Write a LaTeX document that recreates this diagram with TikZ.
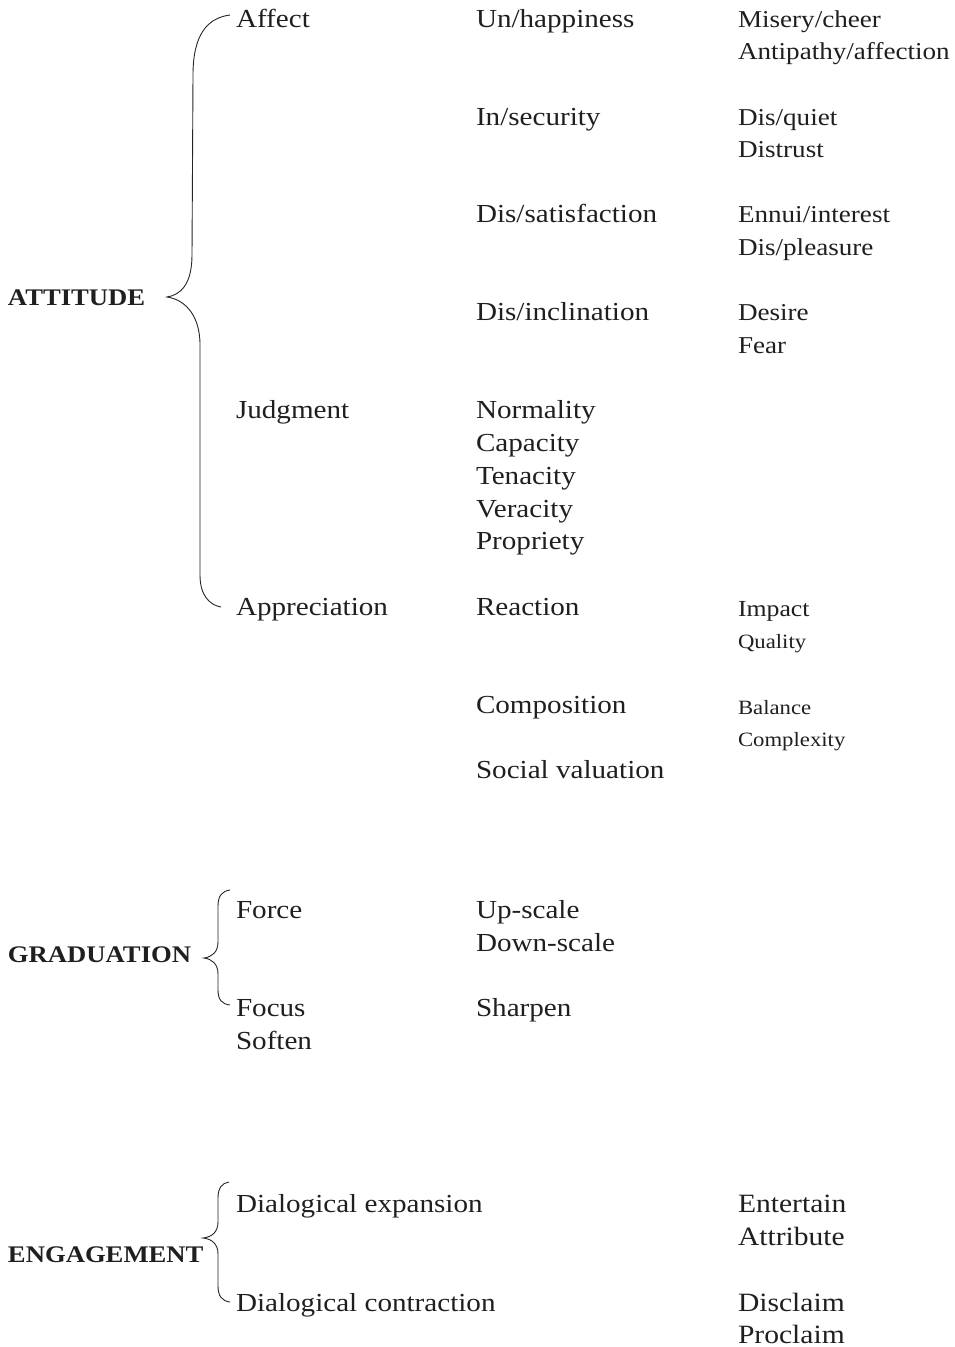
\documentclass[tikz,border=0pt]{standalone}
\usepackage{fontspec}
\setmainfont{Liberation Serif}[FakeStretch=1.12]
\begin{document}
\begin{tikzpicture}[x=1pt,y=-1pt,
  txt/.style={anchor=base west,inner sep=0pt,outer sep=0pt,text=black!88},
  head/.style={txt,font=\fontsize{23.8}{26}\selectfont\bfseries},
  mid/.style={txt,font=\fontsize{26}{30}\selectfont},
  rA/.style={txt,font=\fontsize{24.2}{28}\selectfont},
  rI/.style={txt,font=\fontsize{23}{26}\selectfont},
  rB/.style={txt,font=\fontsize{20.3}{24}\selectfont},
  rE/.style={txt,font=\fontsize{26.4}{30}\selectfont},
  bracel/.style={draw=black!85,line width=0.9pt}]
\useasboundingbox (0,0) rectangle (954,1347);

% ATTITUDE
\node[head] (att) at (8,305) {ATTITUDE};
\node[mid] (affect) at (236,27) {Affect};
\node[mid] (judg) at (236,418) {Judgment};
\node[mid] (appr) at (236,615) {Appreciation};

\node[mid] (unh) at (476,27) {Un/happiness};
\node[mid] (insec) at (476,125) {In/security};
\node[mid] (dissat) at (476,222) {Dis/satisfaction};
\node[mid] (disinc) at (476,320) {Dis/inclination};
\node[mid] (norm) at (476,418) {Normality};
\node[mid] (cap) at (476,451) {Capacity};
\node[mid] (ten) at (476,484) {Tenacity};
\node[mid] (ver) at (476,517) {Veracity};
\node[mid] (prop) at (476,549) {Propriety};
\node[mid] (react) at (476,615) {Reaction};
\node[mid] (comp) at (476,713) {Composition};
\node[mid] (soc) at (476,778) {Social valuation};

\node[rA] (mis) at (738,27) {Misery/cheer};
\node[rA] (anti) at (738,59) {Antipathy/affection};
\node[rA] (disq) at (738,125) {Dis/quiet};
\node[rA] (distr) at (738,157) {Distrust};
\node[rA] (ennui) at (738,222) {Ennui/interest};
\node[rA] (displ) at (738,255) {Dis/pleasure};
\node[rA] (des) at (738,320) {Desire};
\node[rA] (fear) at (738,353) {Fear};
\node[rI] (imp) at (738,616) {Impact};
\node[rB] (qual) at (738,648) {Quality};
\node[rB] (bal) at (738,714) {Balance};
\node[rB] (cplx) at (738,746) {Complexity};

\coordinate (aT) at (230,15);
\coordinate (aM) at (167,297);
\coordinate (aB) at (221,607);
\draw[bracel] (aT) .. controls (207,18) and (193,35) .. (193,75)
  -- (192,255) .. controls (192,285) and (180,295) .. (aM)
  .. controls (182,299) and (200,312) .. (200,345)
  -- (200,575) .. controls (200,596) and (210,605) .. (aB);

% GRADUATION
\node[head] (grad) at (8,962) {GRADUATION};
\node[mid] (force) at (236,918) {Force};
\node[mid] (focus) at (236,1016) {Focus};
\node[mid] (soft) at (236,1049) {Soften};
\node[mid] (up) at (476,918) {Up-scale};
\node[mid] (down) at (476,951) {Down-scale};
\node[mid] (sharp) at (476,1016) {Sharpen};

\coordinate (gT) at (230,890);
\coordinate (gM) at (204,958);
\coordinate (gB) at (230,1005);
\draw[bracel] (gT) .. controls (222,891) and (218,896) .. (218,906)
  -- (218,942) .. controls (218,952) and (212,957) .. (gM)
  .. controls (212,959) and (218,964) .. (218,974)
  -- (218,990) .. controls (218,1000) and (222,1004) .. (gB);

% ENGAGEMENT
\node[head] (eng) at (8,1262) {ENGAGEMENT};
\node[mid] (dexp) at (236,1212) {Dialogical expansion};
\node[mid] (dcon) at (236,1311) {Dialogical contraction};
\node[rE] (ent) at (738,1212) {Entertain};
\node[rE] (attr) at (738,1245) {Attribute};
\node[rE] (discl) at (738,1311) {Disclaim};
\node[rE] (procl) at (738,1343) {Proclaim};

\coordinate (eT) at (229,1182);
\coordinate (eM) at (203,1238);
\coordinate (eB) at (230,1302);
\draw[bracel] (eT) .. controls (222,1183) and (218,1188) .. (218,1198)
  -- (218,1222) .. controls (218,1232) and (212,1237) .. (eM)
  .. controls (212,1239) and (218,1244) .. (218,1254)
  -- (218,1286) .. controls (218,1296) and (222,1301) .. (eB);
\end{tikzpicture}
\end{document}
